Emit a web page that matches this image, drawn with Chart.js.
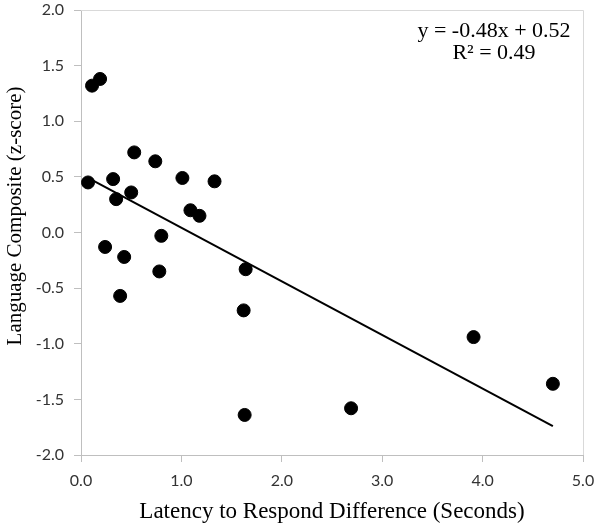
<!DOCTYPE html>
<html>
<head>
<meta charset="utf-8">
<script src="https://cdn.jsdelivr.net/npm/chart.js@4/dist/chart.umd.min.js"></script>
<style>
  html, body { margin: 0; padding: 0; background: #fff; }
  #wrap { width: 601px; height: 526px; }
</style>
</head>
<body>
<div id="wrap"><canvas id="latencyChart" width="601" height="526"></canvas></div>
<script>
// latency difference (s) and language composite (z)
const latency = [0.07, 0.11, 0.19, 0.32, 0.35, 0.50, 0.53, 0.74, 1.01, 1.09, 1.18, 1.33,
                 0.80, 0.24, 0.43, 0.78, 0.39, 1.64, 1.62, 1.63, 2.69, 3.91, 4.70];
const language = [0.45, 1.32, 1.38, 0.48, 0.30, 0.36, 0.72, 0.64, 0.49, 0.20, 0.15, 0.46,
                  -0.03, -0.13, -0.22, -0.35, -0.57, -0.33, -0.70, -1.64, -1.58, -0.94, -1.36];
// end points of the fitted line
const trendX = [0.07, 4.70];
const trendY = [0.49, -1.74];
const equationLines = ['y = -0.48x + 0.52', 'R\u00b2 = 0.49'];
const xTitle = 'Latency to Respond Difference (Seconds)';
const yTitle = 'Language Composite (z-score)';

const serif = '"Liberation Serif", "Times New Roman", serif';
const sans = 'Lato, "Noto Sans", sans-serif';

const extras = {
  id: 'extras',
  beforeDatasetsDraw(chart) {
    const { ctx, chartArea: a } = chart;
    ctx.save();
    ctx.strokeStyle = '#d9d9d9';
    ctx.lineWidth = 1;
    ctx.beginPath();
    ctx.moveTo(a.left, a.top + 0.5);
    ctx.lineTo(a.right + 0.5, a.top + 0.5);
    ctx.lineTo(a.right + 0.5, a.bottom);
    ctx.stroke();
    ctx.restore();
  },
  afterDraw(chart) {
    const { ctx } = chart;
    ctx.save();
    ctx.fillStyle = '#000';
    ctx.font = '22px ' + serif;
    ctx.textAlign = 'center';
    ctx.textBaseline = 'middle';
    ctx.fillText(equationLines[0], 494, 31);
    ctx.fillText(equationLines[1], 494, 53);

    ctx.font = '21px ' + serif;
    ctx.translate(15, 216);
    ctx.rotate(-Math.PI / 2);
    ctx.fillText(yTitle, 0, 0);
    ctx.restore();
  }
};

new Chart(document.getElementById('latencyChart'), {
  type: 'scatter',
  data: {
    datasets: [
      {
        label: 'Participants',
        data: latency.map((x, i) => ({ x: x, y: language[i] })),
        backgroundColor: '#000',
        borderColor: '#000',
        pointRadius: 6.5,
        pointHoverRadius: 6.5
      },
      {
        label: 'Linear fit',
        data: trendX.map((x, i) => ({ x: x, y: trendY[i] })),
        showLine: true,
        borderColor: '#000',
        borderWidth: 2,
        pointRadius: 0,
        fill: false
      }
    ]
  },
  options: {
    responsive: false,
    animation: false,
    layout: { padding: { top: 10, right: 18, left: 0, bottom: 0 } },
    plugins: {
      legend: { display: false },
      tooltip: { enabled: false }
    },
    scales: {
      x: {
        type: 'linear',
        min: 0,
        max: 5,
        afterFit: s => { s.height = 71; s.paddingLeft = 0; s.paddingRight = 0; },
        ticks: {
          stepSize: 1,
          padding: 9,
          color: '#333',
          font: { family: sans, size: 16 },
          callback: v => v.toFixed(1)
        },
        grid: { drawOnChartArea: false, tickLength: 7, color: '#bfbfbf' },
        border: { color: '#bfbfbf' },
        title: {
          display: true,
          text: xTitle,
          color: '#000',
          font: { family: serif, size: 23 },
          padding: { top: 0, bottom: 0 }
        }
      },
      y: {
        type: 'linear',
        min: -2,
        max: 2,
        afterFit: s => { s.width = 81; s.paddingTop = 0; s.paddingBottom = 0; },
        ticks: {
          stepSize: 0.5,
          padding: 10,
          color: '#333',
          font: { family: sans, size: 16 },
          callback: v => v.toFixed(1)
        },
        grid: { drawOnChartArea: false, tickLength: 7, color: '#bfbfbf' },
        border: { color: '#bfbfbf' }
      }
    }
  },
  plugins: [extras]
});
</script>
</body>
</html>
